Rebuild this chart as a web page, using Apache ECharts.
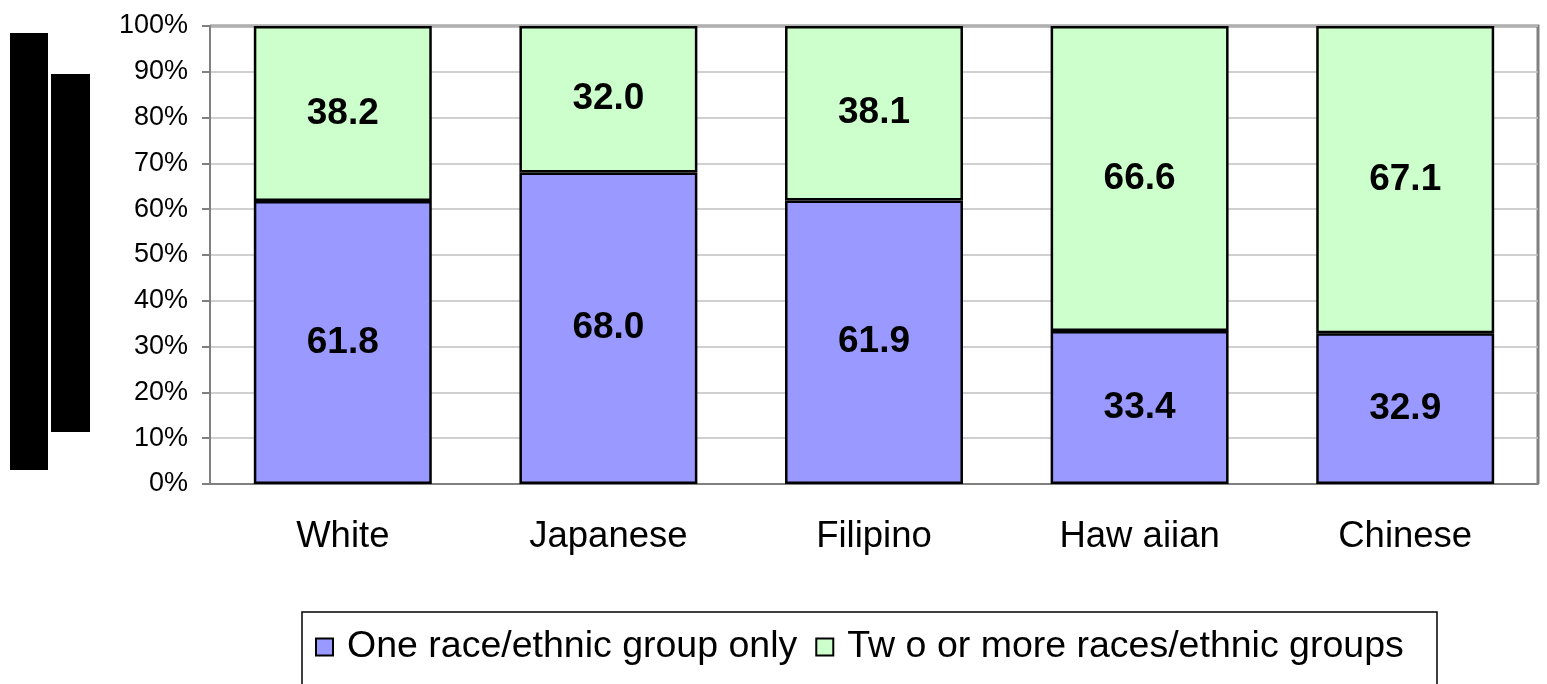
<!DOCTYPE html>
<html>
<head>
<meta charset="utf-8">
<script src="https://cdn.jsdelivr.net/npm/echarts@6/dist/echarts.min.js"></script>
<style>
  html, body { margin: 0; padding: 0; background: #fff; }
  #chart { width: 1547px; height: 684px; }
</style>
</head>
<body>
<div id="chart"></div>
<script>
const categories = ['White', 'Japanese', 'Filipino', 'Haw aiian', 'Chinese'];
const oneRace = [61.8, 68.0, 61.9, 33.4, 32.9];
const twoOrMore = [38.2, 32.0, 38.1, 66.6, 67.1];
const seriesNames = ['One race/ethnic group only', 'Tw o or more races/ethnic groups'];

const chart = echarts.init(document.getElementById('chart'));

const font = 'Liberation Sans, Arial, sans-serif';

const labelStyle = {
  show: true,
  position: 'inside',
  fontFamily: font,
  fontWeight: 'bold',
  fontSize: 37,
  color: '#000',
  formatter: p => p.value.toFixed(1)
};

const option = {
  animation: false,
  grid: { left: 210, right: 9, top: 26, bottom: 200, containLabel: false },
  legend: {
    data: seriesNames,
    left: 310,
    top: 623,
    itemWidth: 17,
    itemHeight: 17,
    itemGap: 18,
    icon: 'rect',
    textStyle: { fontFamily: font, fontSize: 37.5, color: '#000', padding: [0, 0, 0, 9] },
    itemStyle: { borderColor: '#000', borderWidth: 2 }
  },
  xAxis: {
    type: 'category',
    data: categories,
    axisLine: { lineStyle: { color: '#808080', width: 2 } },
    axisTick: { show: false },
    axisLabel: {
      fontFamily: font,
      fontSize: 36.5,
      color: '#000',
      margin: 34
    }
  },
  yAxis: {
    type: 'value',
    min: 0,
    max: 100,
    interval: 10,
    axisLine: { show: true, lineStyle: { color: '#808080', width: 2 } },
    axisTick: { show: true, length: 8, lineStyle: { color: '#808080', width: 2 } },
    axisLabel: {
      fontFamily: font,
      fontSize: 27,
      color: '#000',
      margin: 22,
      formatter: '{value}%'
    },
    splitLine: { lineStyle: { color: '#c0c0c0', width: 1.5 } }
  },
  series: [
    {
      name: seriesNames[0],
      type: 'bar',
      stack: 'total',
      barWidth: '67%',
      data: oneRace,
      itemStyle: { color: '#9999ff', borderColor: '#000', borderWidth: 2.5 },
      label: labelStyle
    },
    {
      name: seriesNames[1],
      type: 'bar',
      stack: 'total',
      barWidth: '67%',
      data: twoOrMore,
      itemStyle: { color: '#ccffcc', borderColor: '#000', borderWidth: 2.5 },
      label: labelStyle
    }
  ],
  graphic: [
    // right and top frame of the plot area
    { type: 'polyline', shape: { points: [[210, 26], [1538, 26], [1538, 484]] }, style: { stroke: '#808080', lineWidth: 3, fill: null }, silent: true },
    // legend frame (cut off at the bottom)
    { type: 'polyline', shape: { points: [[302, 690], [302, 612], [1437, 612], [1437, 690]] }, style: { stroke: '#000', lineWidth: 1.5, fill: null }, silent: true },
    // redacted axis title blocks
    { type: 'rect', shape: { x: 10, y: 33, width: 38, height: 437 }, style: { fill: '#000' }, silent: true },
    { type: 'rect', shape: { x: 51, y: 74, width: 39, height: 358 }, style: { fill: '#000' }, silent: true }
  ]
};

chart.setOption(option);
</script>
</body>
</html>
